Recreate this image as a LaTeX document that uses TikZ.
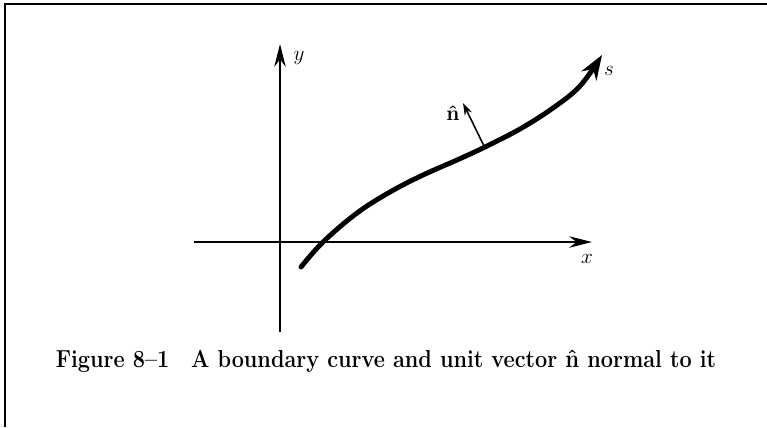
\documentclass[tikz,border=0pt]{standalone}
\usepackage{amsmath,amssymb}
\usepackage{bm}
\usetikzlibrary{arrows.meta, positioning}

\begin{document}
\begin{tikzpicture}[
    x=0.02cm, y=-0.02cm,
    frame/.style={line width=0.9pt},
    axis/.style={->, >={Stealth[length=13pt, width=6.5pt]}, line width=0.8pt},
    bdry/.style={->, >={Stealth[length=14pt, width=10pt]}, line width=2.8pt, line cap=round},
    normvec/.style={->, >={Stealth[length=7pt, width=4.5pt]}, line width=0.9pt},
    lab/.style={inner sep=0pt, font=\large},
    caption/.style={anchor=base, inner sep=0pt, xscale=0.88, transform shape, font=\bfseries\fontsize{14}{17}\selectfont}]

    % Page frame (top and left edges only)
    \useasboundingbox (0,0) rectangle (767,427);
    \draw[frame] (5,427) -- (5,4) -- (767,4);

    % Axes
    \coordinate (xl) at (194,242);
    \coordinate (xr) at (592,242);
    \coordinate (yb) at (280,332);
    \coordinate (yt) at (280,44);
    \draw[axis] (xl) -- (xr);
    \draw[axis] (yb) -- (yt);
    \node[lab] (xlab) at (587,259) {$x$};
    \node[lab] (ylab) at (299,58) {$y$};

    % Boundary curve s
    \coordinate (b0) at (301,267);
    \coordinate (b1) at (323,242);
    \coordinate (b2) at (357,213);
    \coordinate (b3) at (390,192);
    \coordinate (b4) at (423,175);
    \coordinate (b5) at (457,160);
    \coordinate (b6) at (485,147);
    \coordinate (b7) at (520,129);
    \coordinate (b8) at (553,108);
    \coordinate (b9) at (580,86);
    \coordinate (b10) at (602,55);
    \draw[bdry] plot[smooth, tension=0.6] coordinates {(b0) (b1) (b2) (b3) (b4) (b5) (b6) (b7) (b8) (b9) (b10)};
    \node[lab] (slab) at (609,71) {$s$};

    % Unit normal
    \coordinate (nbase) at (484,146);
    \coordinate (ntip) at (463,103);
    \draw[normvec] (nbase) -- (ntip);
    \node[lab] (nlab) at (453,113) {$\bm{\hat{\mathbf{n}}}$};

    % Caption
    \node[caption] (cap) at (386,367) {Figure 8--1\quad A boundary curve and unit vector $\bm{\hat{\mathbf{n}}}$ normal to it};
\end{tikzpicture}
\end{document}
